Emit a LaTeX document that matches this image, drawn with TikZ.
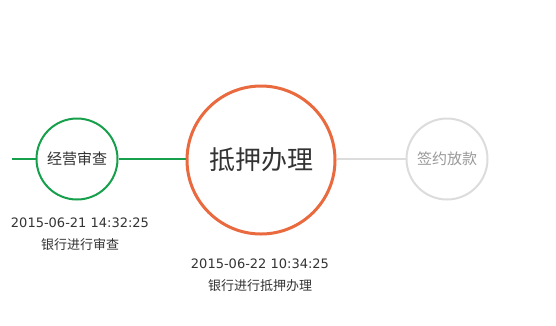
\documentclass[tikz,border=0pt]{standalone}
\usepackage{fontspec}
\setmainfont{Noto Sans CJK SC}
\newfontfamily\stampfont{DejaVu Sans}
\definecolor{donegreen}{HTML}{16A04B}
\definecolor{nowred}{HTML}{EA6A3F}
\definecolor{todogray}{HTML}{DCDCDC}
\definecolor{textdark}{HTML}{333333}
\definecolor{textlight}{HTML}{999999}

\begin{document}
\begin{tikzpicture}[x=1pt,y=-1pt,
    stage/.style={shape=circle, fill=white, inner sep=0pt},
    stamp/.style={text=textdark, font=\stampfont\fontsize{13}{15}\selectfont},
    note/.style={text=textdark, font=\fontsize{13}{15}\selectfont}]
    \useasboundingbox (0,0) rectangle (556,325);
    \coordinate (L0) at (12,159);
    \node[stage, draw=donegreen, line width=2pt, minimum size=81pt, text=textdark, font=\fontsize{15}{18}\selectfont] at (77,159) (S1) {经营审查};
    \node[stage, draw=nowred, line width=3pt, minimum size=148pt, text=textdark, font=\fontsize{26}{30}\selectfont] at (261,160) (S2) {抵押办理};
    \node[stage, draw=todogray, line width=2pt, minimum size=81pt, text=textlight, font=\fontsize{15}{18}\selectfont] at (447,159) (S3) {签约放款};
    \path [draw=donegreen, line width=2pt] (L0) -- (S1);
    \path [draw=donegreen, line width=2pt] (S1) -- (S2.west |- S1);
    \path [draw=todogray, line width=2pt] (S2.east |- S3) -- (S3);
    \node[stamp] at (80,223) (T1) {2015-06-21 14:32:25};
    \node[note] at (80,245) (N1) {银行进行审查};
    \node[stamp] at (260,264) (T2) {2015-06-22 10:34:25};
    \node[note] at (260,286) (N2) {银行进行抵押办理};
\end{tikzpicture}
\end{document}
